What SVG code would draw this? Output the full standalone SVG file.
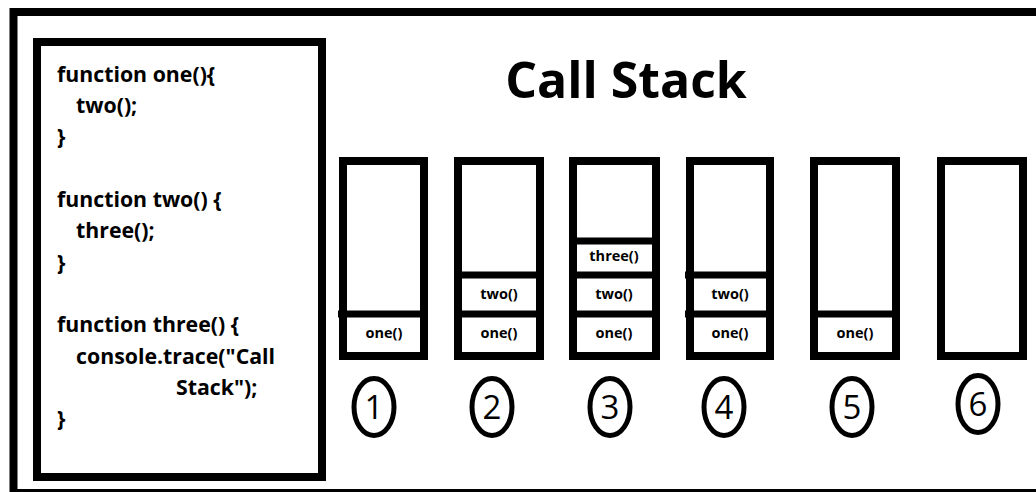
<svg xmlns="http://www.w3.org/2000/svg" width="1036" height="492" viewBox="0 0 1036 492">
<style>
.code{font-family:"Open Sans","Noto Sans","Liberation Sans",sans-serif;font-weight:700;font-size:21.3px;fill:#000}
.title{font-family:"Open Sans","Noto Sans","Liberation Sans",sans-serif;font-weight:700;font-size:50px;fill:#000}
.lbl{font-family:"Open Sans","Noto Sans","Liberation Sans",sans-serif;font-weight:700;font-size:14.5px;fill:#000;text-anchor:middle}
.num{font-family:"Open Sans","Noto Sans","Liberation Sans",sans-serif;font-weight:400;font-size:33px;fill:#000;text-anchor:middle}
.box{fill:#fff;stroke:#000;stroke-width:8}
.div{stroke:#000;stroke-width:7}
.circ{fill:#fff;stroke:#000;stroke-width:5}
</style>
<rect width="1036" height="492" fill="#fff"/>
<g id="frame">
<path d="M13.5 492 V12 H1036" fill="none" stroke="#000" stroke-width="8"/>
<rect x="10" y="489" width="1026" height="3" fill="#000"/>
</g>
<g id="code">
<rect class="box" x="37" y="42" width="285" height="435"/>
<text class="code" x="57" y="82">function one(){</text>
<text class="code" x="76" y="113">two();</text>
<text class="code" x="57" y="144">}</text>
<text class="code" x="57" y="207">function two() {</text>
<text class="code" x="76" y="238">three();</text>
<text class="code" x="57" y="270">}</text>
<text class="code" x="57" y="332">function three() {</text>
<text class="code" x="76" y="364">console.trace("Call</text>
<text class="code" x="176" y="395">Stack");</text>
<text class="code" x="57" y="426">}</text>
</g>
<g id="title"><text class="title" x="626" y="98" text-anchor="middle">Call Stack</text></g>
<g id="stack1">
<rect class="box" x="343" y="161" width="81" height="195"/>
<line class="div" x1="338" y1="314" x2="428" y2="314"/>
<text class="lbl" x="384" y="338">one()</text>
</g>
<g id="stack2">
<rect class="box" x="458" y="161" width="82" height="195"/>
<line class="div" x1="454" y1="275" x2="544" y2="275"/>
<line class="div" x1="454" y1="314" x2="544" y2="314"/>
<text class="lbl" x="499" y="299">two()</text>
<text class="lbl" x="499" y="338">one()</text>
</g>
<g id="stack3">
<rect class="box" x="573" y="161" width="83" height="195"/>
<line class="div" x1="569" y1="241" x2="660" y2="241"/>
<line class="div" x1="569" y1="275" x2="660" y2="275"/>
<line class="div" x1="569" y1="314" x2="660" y2="314"/>
<text class="lbl" x="614" y="261">three()</text>
<text class="lbl" x="614" y="299">two()</text>
<text class="lbl" x="614" y="338">one()</text>
</g>
<g id="stack4">
<rect class="box" x="690" y="161" width="80" height="195"/>
<line class="div" x1="685" y1="275" x2="774" y2="275"/>
<line class="div" x1="685" y1="314" x2="774" y2="314"/>
<text class="lbl" x="730" y="299">two()</text>
<text class="lbl" x="730" y="338">one()</text>
</g>
<g id="stack5">
<rect class="box" x="814" y="161" width="82" height="195"/>
<line class="div" x1="810" y1="314" x2="900" y2="314"/>
<text class="lbl" x="855" y="338">one()</text>
</g>
<g id="stack6">
<rect class="box" x="941" y="161" width="82" height="195"/>
</g>
<g id="step1"><ellipse class="circ" cx="374" cy="407" rx="20" ry="28.5"/><text class="num" x="374" y="419">1</text></g>
<g id="step2"><ellipse class="circ" cx="492" cy="407" rx="20" ry="28.5"/><text class="num" x="492" y="419">2</text></g>
<g id="step3"><ellipse class="circ" cx="610" cy="407" rx="20" ry="28.5"/><text class="num" x="610" y="419">3</text></g>
<g id="step4"><ellipse class="circ" cx="724" cy="407" rx="20" ry="28.5"/><text class="num" x="724" y="419">4</text></g>
<g id="step5"><ellipse class="circ" cx="852" cy="407" rx="20" ry="28.5"/><text class="num" x="852" y="419">5</text></g>
<g id="step6"><ellipse class="circ" cx="978" cy="404" rx="20" ry="28.5"/><text class="num" x="978" y="416">6</text></g>
</svg>
